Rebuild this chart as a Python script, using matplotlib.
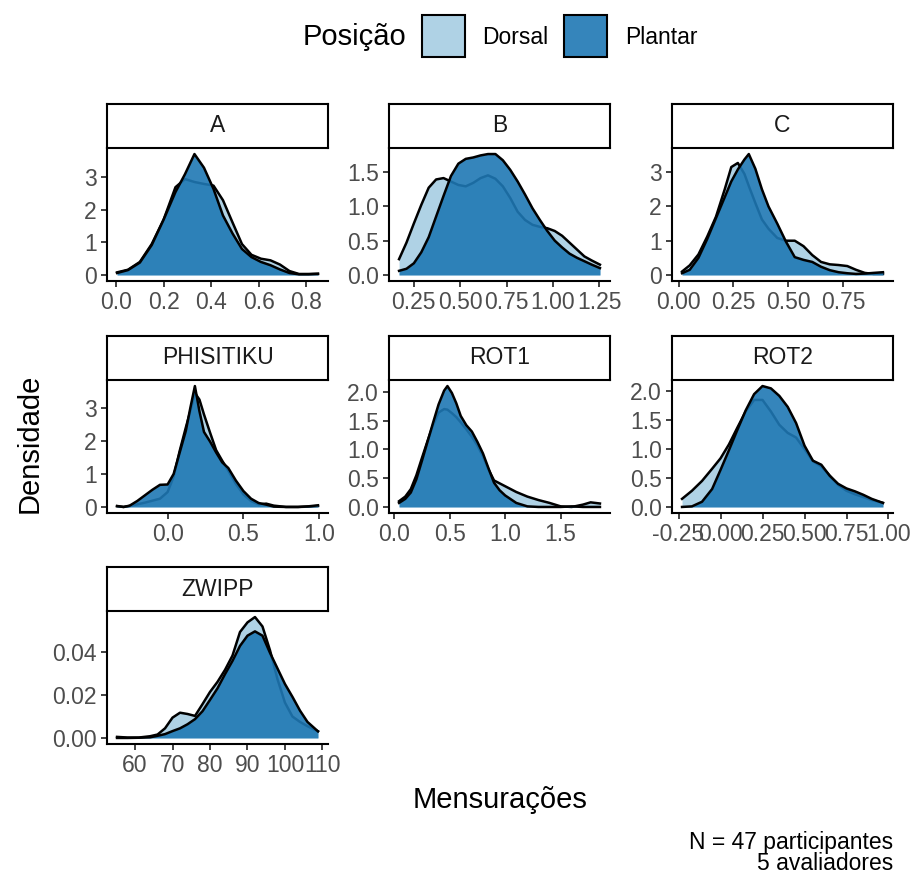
import matplotlib
matplotlib.use('Agg')
import matplotlib.pyplot as plt
from matplotlib.colors import to_rgba
from matplotlib.patches import Rectangle

plt.rcParams['font.family'] = ['Liberation Sans', 'DejaVu Sans']

# ---- dados (curvas de densidade por posição) ----
a_x = [0.004, 0.05, 0.10, 0.15, 0.20, 0.25, 0.29, 0.33, 0.37, 0.41, 0.45, 0.49, 0.53,
       0.57, 0.61, 0.65, 0.69, 0.73, 0.77, 0.81, 0.85]
a_dorsal = [0.08, 0.16, 0.40, 0.95, 1.70, 2.70, 2.95, 2.86, 2.80, 2.75, 2.30, 1.62, 0.95,
            0.62, 0.50, 0.45, 0.32, 0.12, 0.03, 0.03, 0.04]
a_plantar = [0.06, 0.15, 0.38, 0.92, 1.70, 2.55, 3.10, 3.72, 3.30, 2.65, 1.83, 1.28, 0.80,
             0.55, 0.40, 0.30, 0.17, 0.06, 0.02, 0.02, 0.03]

b_x = [0.17, 0.21, 0.25, 0.29, 0.33, 0.37, 0.41, 0.45, 0.49, 0.53, 0.57, 0.61, 0.65, 0.69,
       0.73, 0.77, 0.81, 0.85, 0.89, 0.93, 0.97, 1.01, 1.05, 1.09, 1.13, 1.17, 1.21, 1.254]
b_dorsal = [0.23, 0.47, 0.75, 1.02, 1.27, 1.39, 1.41, 1.36, 1.31, 1.29, 1.34, 1.41, 1.45, 1.40,
            1.29, 1.12, 0.92, 0.80, 0.73, 0.70, 0.68, 0.64, 0.57, 0.47, 0.37, 0.27, 0.21, 0.15]
b_plantar = [0.06, 0.09, 0.17, 0.33, 0.55, 0.85, 1.15, 1.44, 1.62, 1.69, 1.71, 1.74, 1.76, 1.76,
             1.67, 1.53, 1.36, 1.17, 0.97, 0.80, 0.64, 0.50, 0.40, 0.31, 0.25, 0.20, 0.15, 0.10]

c_x = [0.015, 0.05, 0.09, 0.13, 0.17, 0.21, 0.24, 0.27, 0.30, 0.32, 0.35, 0.38, 0.41, 0.45,
       0.49, 0.53, 0.57, 0.61, 0.65, 0.69, 0.73, 0.77, 0.81, 0.85, 0.89, 0.933]
c_dorsal = [0.10, 0.28, 0.60, 1.12, 1.70, 2.50, 3.15, 3.27, 2.95, 2.60, 2.10, 1.62, 1.35, 1.08,
            1.00, 1.00, 0.84, 0.58, 0.38, 0.31, 0.29, 0.26, 0.15, 0.06, 0.03, 0.03]
c_plantar = [0.05, 0.15, 0.50, 1.05, 1.66, 2.27, 2.73, 3.08, 3.37, 3.53, 3.10, 2.50, 2.00, 1.50,
             0.97, 0.52, 0.44, 0.38, 0.24, 0.14, 0.08, 0.05, 0.03, 0.04, 0.06, 0.08]

phi_x = [-0.333, -0.29, -0.25, -0.20, -0.15, -0.10, -0.05, 0.0, 0.04, 0.08, 0.12, 0.15, 0.18,
         0.21, 0.24, 0.28, 0.32, 0.36, 0.40, 0.45, 0.50, 0.55, 0.60, 0.65, 0.70, 0.78, 0.86,
         0.93, 0.991]
phi_dorsal = [0.02, 0.0, 0.03, 0.08, 0.13, 0.19, 0.25, 0.45, 0.92, 1.70, 2.40, 2.90, 3.45,
              3.25, 2.80, 2.25, 1.72, 1.40, 1.10, 0.70, 0.38, 0.18, 0.08, 0.10, 0.04, 0.0, 0.0,
              0.01, 0.03]
phi_plantar = [0.03, 0.0, 0.04, 0.18, 0.35, 0.52, 0.67, 0.68, 1.00, 1.65, 2.30, 3.00, 3.66,
               2.90, 2.27, 1.98, 1.65, 1.35, 1.18, 0.80, 0.48, 0.25, 0.12, 0.07, 0.01, 0.0, 0.0,
               0.02, 0.05]

rot1_x = [0.044, 0.10, 0.15, 0.20, 0.25, 0.30, 0.35, 0.40, 0.45, 0.48, 0.52, 0.56, 0.60, 0.65,
          0.70, 0.75, 0.80, 0.85, 0.90, 0.95, 1.0, 1.1, 1.2, 1.3, 1.4, 1.5, 1.6, 1.7, 1.77, 1.854]
rot1_dorsal = [0.10, 0.18, 0.31, 0.55, 0.85, 1.14, 1.42, 1.64, 1.70, 1.69, 1.63, 1.56, 1.47,
               1.35, 1.22, 1.07, 0.88, 0.65, 0.46, 0.41, 0.36, 0.26, 0.18, 0.12, 0.07, 0.01,
               0.0, 0.04, 0.08, 0.06]
rot1_plantar = [0.07, 0.14, 0.25, 0.48, 0.80, 1.13, 1.46, 1.78, 2.02, 2.10, 1.98, 1.80, 1.58,
                1.42, 1.31, 1.13, 0.93, 0.67, 0.42, 0.29, 0.20, 0.07, 0.01, 0.0, 0.0, 0.0,
                0.01, 0.0, 0.0, 0.0]

rot2_x = [-0.229, -0.17, -0.11, -0.05, 0.0, 0.05, 0.10, 0.15, 0.20, 0.25, 0.30, 0.35, 0.40,
          0.45, 0.50, 0.55, 0.60, 0.65, 0.70, 0.75, 0.80, 0.85, 0.90, 0.967]
rot2_dorsal = [0.14, 0.28, 0.45, 0.66, 0.84, 1.08, 1.37, 1.65, 1.85, 1.85, 1.65, 1.42, 1.28,
               1.20, 1.00, 0.79, 0.70, 0.54, 0.38, 0.28, 0.22, 0.17, 0.12, 0.07]
rot2_plantar = [0.0, 0.01, 0.09, 0.31, 0.64, 0.98, 1.33, 1.67, 1.95, 2.09, 2.05, 1.92, 1.73,
                1.45, 1.06, 0.80, 0.73, 0.54, 0.40, 0.32, 0.27, 0.21, 0.14, 0.07]

zw_x = [55.2, 58, 61, 64, 66, 68, 70, 72, 74, 76, 78, 80, 82, 84, 86, 88, 90, 92, 94, 96,
        98, 100, 102, 104, 106, 108.8]
zw_dorsal = [0.0005, 0.0002, 0.0002, 0.0008, 0.0016, 0.0045, 0.0095, 0.0118, 0.0112, 0.0103,
             0.0158, 0.0215, 0.0262, 0.0318, 0.0385, 0.0495, 0.0540, 0.0565, 0.0521, 0.0410,
             0.0275, 0.0165, 0.0100, 0.0075, 0.0055, 0.0031]
zw_plantar = [0.0, 0.0, 0.0001, 0.0003, 0.0010, 0.0018, 0.0032, 0.0045, 0.0064, 0.0088,
              0.0125, 0.0178, 0.0232, 0.0298, 0.0360, 0.0430, 0.0478, 0.0498, 0.0478, 0.0398,
              0.0325, 0.0252, 0.0192, 0.0128, 0.0075, 0.0031]

paineis = ['A', 'B', 'C', 'PHISITIKU', 'ROT1', 'ROT2', 'ZWIPP']
xs = [a_x, b_x, c_x, phi_x, rot1_x, rot2_x, zw_x]
dorsais = [a_dorsal, b_dorsal, c_dorsal, phi_dorsal, rot1_dorsal, rot2_dorsal, zw_dorsal]
plantares = [a_plantar, b_plantar, c_plantar, phi_plantar, rot1_plantar, rot2_plantar, zw_plantar]

x_ticks = [[0.0, 0.2, 0.4, 0.6, 0.8], [0.25, 0.5, 0.75, 1.0, 1.25], [0.0, 0.25, 0.5, 0.75],
           [0.0, 0.5, 1.0], [0.0, 0.5, 1.0, 1.5], [-0.25, 0.0, 0.25, 0.5, 0.75, 1.0],
           [60, 70, 80, 90, 100, 110]]
x_labels = [['0.0', '0.2', '0.4', '0.6', '0.8'], ['0.25', '0.50', '0.75', '1.00', '1.25'],
            ['0.00', '0.25', '0.50', '0.75'], ['0.0', '0.5', '1.0'],
            ['0.0', '0.5', '1.0', '1.5'], ['-0.25', '0.00', '0.25', '0.50', '0.75', '1.00'],
            ['60', '70', '80', '90', '100', '110']]
y_ticks = [[0, 1, 2, 3], [0, 0.5, 1.0, 1.5], [0, 1, 2, 3], [0, 1, 2, 3],
           [0, 0.5, 1.0, 1.5, 2.0], [0, 0.5, 1.0, 1.5, 2.0], [0, 0.02, 0.04]]
y_labels = [['0', '1', '2', '3'], ['0.0', '0.5', '1.0', '1.5'], ['0', '1', '2', '3'],
            ['0', '1', '2', '3'], ['0.0', '0.5', '1.0', '1.5', '2.0'],
            ['0.0', '0.5', '1.0', '1.5', '2.0'], ['0.00', '0.02', '0.04']]

cor_dorsal = '#A6CEE3'
cor_plantar = '#1F78B4'
alfa = 0.9

W, H = 911, 874
fig = plt.figure(figsize=(W / 100, H / 100), dpi=100)


def caixa(esq, topo, larg, alt):
    # pixels (origem no topo) -> coordenadas da figura
    return [esq / W, 1 - (topo + alt) / H, larg / W, alt / H]


esquerdas = [107, 389, 672]
topos = [148, 380, 611]
larg, alt, alt_strip = 221, 133, 44
tam_pequeno = 16.5
tam_grande = 21

for i, nome in enumerate(paineis):
    lin, col = divmod(i, 3)
    ax = fig.add_axes(caixa(esquerdas[col], topos[lin], larg, alt))
    x = xs[i]
    # ordem como no ggplot: área + contorno de cada grupo, um depois do outro
    ax.fill_between(x, 0, dorsais[i], color=cor_dorsal, alpha=alfa, lw=0, zorder=1)
    ax.plot(x, dorsais[i], color='black', lw=1.8, solid_joinstyle='round', zorder=2)
    ax.fill_between(x, 0, plantares[i], color=cor_plantar, alpha=alfa, lw=0, zorder=3)
    ax.plot(x, plantares[i], color='black', lw=1.8, solid_joinstyle='round', zorder=4)

    dx = 0.05 * (x[-1] - x[0])
    ax.set_xlim(x[0] - dx, x[-1] + dx)
    ymax = max(max(dorsais[i]), max(plantares[i]))
    ax.set_ylim(-0.05 * ymax, 1.05 * ymax)
    ax.set_xticks(x_ticks[i], x_labels[i])
    ax.set_yticks(y_ticks[i], y_labels[i])
    ax.tick_params(labelsize=tam_pequeno, labelcolor='#4D4D4D', color='#333333',
                   length=4.3, width=1.3, pad=3)
    for lado in ['top', 'right']:
        ax.spines[lado].set_visible(False)
    for lado in ['left', 'bottom']:
        ax.spines[lado].set_linewidth(1.5)
        ax.spines[lado].set_color('black')
        ax.spines[lado].set_zorder(5)

    st = fig.add_axes(caixa(esquerdas[col], topos[lin] - alt_strip, larg, alt_strip))
    st.set_xticks([])
    st.set_yticks([])
    for sp in st.spines.values():
        sp.set_linewidth(1.5)
        sp.set_color('black')
    st.text(0.5, 0.5, nome, ha='center', va='center', fontsize=tam_pequeno, color='#1A1A1A',
            transform=st.transAxes)

# títulos dos eixos
fig.text(30 / W, 1 - 443 / H, 'Densidade', rotation=90, ha='center', va='center',
         fontsize=tam_grande)
fig.text(500 / W, 1 - 800 / H, 'Mensurações', ha='center', va='center', fontsize=tam_grande)

# legenda
fig.text(303 / W, 1 - 37 / H, 'Posição', ha='left', va='center', fontsize=tam_grande)
for esq, cor, rotulo, x_txt in [(422, cor_dorsal, 'Dorsal', 482), (564, cor_plantar, 'Plantar', 625)]:
    fig.patches.append(Rectangle((esq / W, 1 - 57 / H), 43 / W, 42 / H, transform=fig.transFigure,
                                 facecolor=to_rgba(cor, alfa), edgecolor='black', lw=1.5))
    fig.text(x_txt / W, 1 - 37 / H, rotulo, ha='left', va='center', fontsize=tam_pequeno)

# nota no canto inferior
fig.text(893 / W, 1 - 842 / H, 'N = 47 participantes', ha='right', va='center', fontsize=tam_pequeno)
fig.text(893 / W, 1 - 864 / H, '5 avaliadores', ha='right', va='center', fontsize=tam_pequeno)

fig.savefig('out.png', dpi=100)
